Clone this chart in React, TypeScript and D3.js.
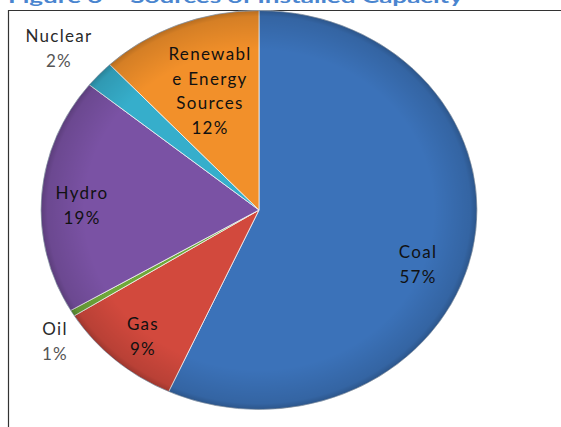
import React from "react";
import * as d3 from "d3";

const categories = ["Coal", "Gas", "Oil", "Hydro", "Nuclear", "Renewable Energy Sources"];
const values = [56.8, 9.3, 0.5, 19.2, 2.2, 12.0];
const percentLabels = ["57%", "9%", "1%", "19%", "2%", "12%"];
const labelLines = [["Coal"], ["Gas"], ["Oil"], ["Hydro"], ["Nuclear"], ["Renewabl", "e Energy", "Sources"]];
const colors = ["#3b72b9", "#d2493d", "#6fa83a", "#7a52a4", "#36aecb", "#f2902a"];
const titleText = "Figure 6 – Sources of Installed Capacity";

const W = 561;
const H = 427;
const cx = 259;
const cy = 210;
const ry = 199.5;
const rx = 218;

const labelPos: [number, number, boolean][] = [
  [418, 258, true],
  [143, 330, true],
  [55, 335, false],
  [82, 199, true],
  [59, 42, false],
  [210, 60, true],
];

export default function App() {
  const pie = d3
    .pie<number>()
    .sort(null)
    .startAngle(0)
    .endAngle(2 * Math.PI)
    .value((d) => d);
  const arcs = pie(values);
  const arc = d3.arc<d3.PieArcDatum<number>>().innerRadius(0).outerRadius(ry);
  const sx = rx / ry;

  return (
    <svg width={W} height={H} style={{ position: "absolute", left: 0, top: 0, background: "#fff" }}>
      <defs>
        <radialGradient id="shade" cx="0.5" cy="0.5" r="0.5">
          <stop offset="0.8" stopColor="#000" stopOpacity="0" />
          <stop offset="0.97" stopColor="#000" stopOpacity="0.12" />
          <stop offset="1" stopColor="#000" stopOpacity="0.25" />
        </radialGradient>
      </defs>
      <text
        x={8}
        y={3}
        fontFamily="Lato, 'Open Sans', sans-serif"
        fontWeight="bold"
        fontSize={17}
        fill="#4a85cf"
        textLength={455}
        lengthAdjust="spacingAndGlyphs"
      >
        {titleText}
      </text>
      <path d={`M${8.5},${H} V${10.5} H${W}`} fill="none" stroke="#333" strokeWidth={1.2} />
      <g transform={`translate(${cx},${cy}) scale(${sx},1)`}>
        {arcs.map((a, i) => (
          <path
            key={categories[i]}
            d={arc(a) || ""}
            fill={colors[i]}
            stroke="#f4f4f4"
            strokeWidth={0.8}
            vectorEffect="non-scaling-stroke"
          />
        ))}
        <circle r={ry} fill="url(#shade)" />
        <circle r={ry} fill="none" stroke="#2b4a70" strokeOpacity={0.35} strokeWidth={1} vectorEffect="non-scaling-stroke" />
      </g>
      {labelPos.map(([x, y, inside], i) => {
        const lines = [...labelLines[i], percentLabels[i]];
        return (
          <text
            key={categories[i]}
            fontFamily="Lato, 'Open Sans', sans-serif"
            fontSize={17}
            letterSpacing={1.3}
            textAnchor="middle"
            fill={inside ? "#111" : "#2a2a2a"}
          >
            {lines.map((t, j) => (
              <tspan
                key={j}
                x={x}
                y={y + j * 24.5}
                fill={!inside && j === lines.length - 1 ? "#555" : undefined}
              >
                {t}
              </tspan>
            ))}
          </text>
        );
      })}
    </svg>
  );
}
